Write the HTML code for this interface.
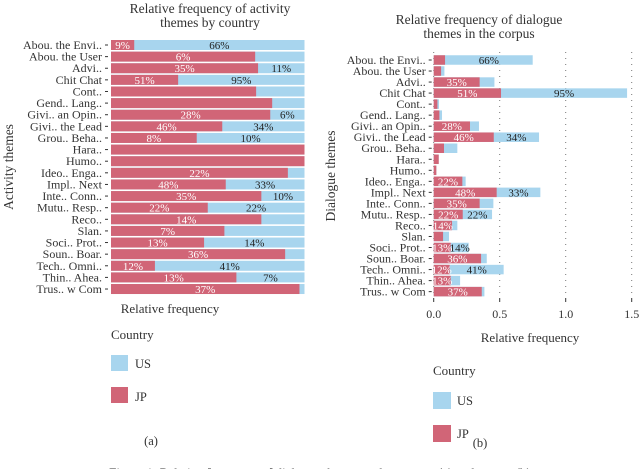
<!DOCTYPE html>
<html><head><meta charset="utf-8"><style>
body{margin:0;background:#fff}
svg{display:block;font-family:"Liberation Serif",serif}
</style></head><body>
<svg id="c" width="640" height="469" viewBox="0 0 640 469">
<text x="210" y="13" font-size="13.5" text-anchor="middle" fill="#333">Relative frequency of activity</text>
<text x="210" y="27" font-size="13.5" text-anchor="middle" fill="#333">themes by country</text>
<text transform="translate(13,167) rotate(-90)" font-size="13.5" text-anchor="middle" fill="#333">Activity themes</text>
<text x="170" y="313" font-size="13" text-anchor="middle" fill="#333">Relative frequency</text>
<text x="111" y="339" font-size="13" fill="#333">Country</text>
<rect x="111" y="355" width="17" height="16" fill="#a8d5ee"/>
<text x="135" y="368" font-size="12.5" fill="#333">US</text>
<rect x="111" y="387" width="17" height="16" fill="#d16577"/>
<text x="135" y="401" font-size="12.5" fill="#333">JP</text>
<text x="151" y="445" font-size="12.5" text-anchor="middle" fill="#333">(a)</text>

<text x="479" y="24" font-size="13.5" text-anchor="middle" fill="#333">Relative frequency of dialogue</text>
<text x="479" y="38" font-size="13.5" text-anchor="middle" fill="#333">themes in the corpus</text>
<text transform="translate(335,176) rotate(-90)" font-size="13.5" text-anchor="middle" fill="#333">Dialogue themes</text>
<text x="530" y="342" font-size="13" text-anchor="middle" fill="#333">Relative frequency</text>
<text x="433" y="375" font-size="13" fill="#333">Country</text>
<rect x="433" y="392" width="18" height="17" fill="#a8d5ee"/>
<text x="457" y="405" font-size="12.5" fill="#333">US</text>
<rect x="433" y="425" width="18" height="17" fill="#d16577"/>
<text x="457" y="438" font-size="12.5" fill="#333">JP</text>
<text x="480" y="447" font-size="12.5" text-anchor="middle" fill="#333">(b)</text>
<text x="320" y="477" font-size="13" text-anchor="middle" fill="#333">Figure 1: Relative frequency of dialogue themes and concepts: (a) and corpus (b)</text>
<g id="left"></g><g id="right"></g>
</svg>
<script>
const categories=["Abou. the Envi..","Abou. the User","Advi..","Chit Chat","Cont..","Gend.. Lang..","Givi.. an Opin..","Givi.. the Lead","Grou.. Beha..","Hara..","Humo..","Ideo.. Enga..","Impl.. Next","Inte.. Conn..","Mutu.. Resp..","Reco..","Slan.","Soci.. Prot..","Soun.. Boar.","Tech.. Omni..","Thin.. Ahea.","Trus.. w Com"];
const jpShare=[0.12,0.745,0.76,0.347,0.75,0.833,0.823,0.575,0.443,1,1,0.914,0.593,0.777,0.5,0.777,0.586,0.481,0.9,0.227,0.648,0.974];
const jpFreq=[0.086,0.056,0.348,0.51,0.028,0.043,0.275,0.455,0.078,0.038,0.02,0.217,0.477,0.348,0.22,0.139,0.071,0.129,0.359,0.121,0.129,0.364];
const usFreq=[0.664,0.025,0.112,0.955,0.012,0.02,0.068,0.343,0.101,0,0,0.025,0.331,0.104,0.222,0.04,0.045,0.136,0.043,0.409,0.071,0.02];
const jpLabels=["9%","6%","35%","51%","","","28%","46%","8%","","","22%","48%","35%","22%","14%","7%","13%","36%","12%","13%","37%"];
const usLabels=["66%","","11%","95%","","","6%","34%","10%","","","","33%","10%","22%","","","14%","","41%","7%",""];
const jpLabelsR=["","","35%","51%","","","28%","46%","","","","22%","48%","35%","22%","14%","","13%","36%","12%","13%","37%"];
const usLabelsR=["66%","","","95%","","","","34%","","","","","33%","","22%","","","14%","","41%","",""];
const xTicks=[0,0.5,1,1.5];
const JP="#d16577",US="#a8d5ee",NS="http://www.w3.org/2000/svg";
function mk(p,t,a,txt){const e=document.createElementNS(NS,t);for(const k in a)e.setAttribute(k,a[k]);if(txt!==undefined)e.textContent=txt;p.appendChild(e);return e;}
const L=document.getElementById('left');
const lx0=111,lx1=304.5,ly0=45,lstep=11.62,bh=10;
const lxs=v=>lx0+v*(lx1-lx0), lys=i=>ly0+i*lstep;
categories.forEach((c,i)=>{
 const y=lys(i);
 let t=mk(L,'text',{x:lx0-9,y:y+4,'font-size':12,'text-anchor':'end',fill:'#333'},c);
 
 
 let tk=mk(L,'line',{x1:lx0-6,x2:lx0-3,y1:y,y2:y,stroke:'#333'});
 
 
 let u=mk(L,'rect',{x:lx0,y:y-bh/2,width:lx1-lx0,height:bh,fill:US});
 
 
 let j=mk(L,'rect',{x:lx0,y:y-bh/2,width:lxs(jpShare[i])-lx0,height:bh,fill:JP});
 
 
 if(jpLabels[i]){let a=mk(L,'text',{x:(lx0+lxs(jpShare[i]))/2,y:y+4,'font-size':11,'text-anchor':'middle',fill:'#fff'},jpLabels[i]);
  
  }
 if(usLabels[i]){let a=mk(L,'text',{x:(lxs(jpShare[i])+lx1)/2,y:y+4,'font-size':11,'text-anchor':'middle',fill:'#222'},usLabels[i]);
  
  }
});
const R=document.getElementById('right');
const rx0=433.7,rpx=132,ry0=60,rstep=11.03,rbh=9.5;
const rxs=v=>rx0+v*rpx, rys=i=>ry0+i*rstep;
xTicks.forEach(v=>{
 let g=mk(R,'line',{x1:rxs(v),x2:rxs(v),y1:52,y2:298,stroke:'#777','stroke-dasharray':'1 5'});
 
 
 let t=mk(R,'line',{x1:rxs(v),x2:rxs(v),y1:298,y2:302,stroke:'#333'});
 
 
 let l=mk(R,'text',{x:rxs(v),y:318,'font-size':12,'text-anchor':'middle',fill:'#333'},v.toFixed(1));
 
 
});
categories.forEach((c,i)=>{
 const y=rys(i);
 let t=mk(R,'text',{x:rx0-8,y:y+4,'font-size':12,'text-anchor':'end',fill:'#333'},c);
 
 
 let tk=mk(R,'line',{x1:rx0-5,x2:rx0-2,y1:y,y2:y,stroke:'#333'});
 
 
 const tot=jpFreq[i]+usFreq[i];
 let u=mk(R,'rect',{x:rx0,y:y-rbh/2,width:rxs(tot)-rx0,height:rbh,fill:US});
 
 
 let j=mk(R,'rect',{x:rx0,y:y-rbh/2,width:rxs(jpFreq[i])-rx0,height:rbh,fill:JP});
 
 
 if(jpLabelsR[i]){let a=mk(R,'text',{x:(rx0+rxs(jpFreq[i]))/2,y:y+4,'font-size':11,'text-anchor':'middle',fill:'#fff'},jpLabelsR[i]);
  
  }
 if(usLabelsR[i]){let a=mk(R,'text',{x:(rxs(jpFreq[i])+rxs(tot))/2,y:y+4,'font-size':11,'text-anchor':'middle',fill:'#222'},usLabelsR[i]);
  
  }
});
</script>
</body></html>
